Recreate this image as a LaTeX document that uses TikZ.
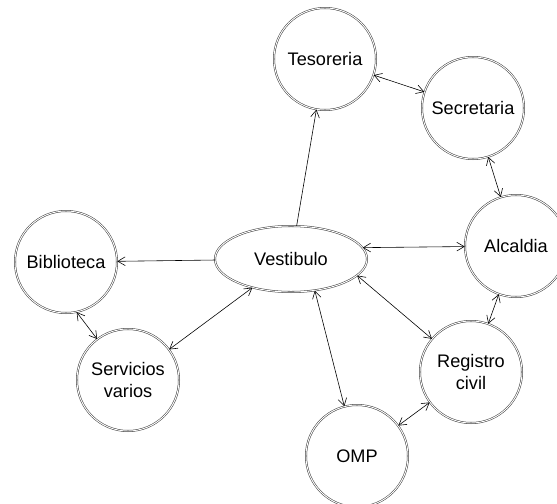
\documentclass[tikz,border=0pt]{standalone}
\usepackage{fontspec}
\setmainfont{Liberation Sans}
\usetikzlibrary{shapes.geometric, arrows.meta}

\begin{document}
\begin{tikzpicture}[
		x=0.03cm, y=-0.03cm,
		font=\fontsize{15.5}{19.5}\selectfont,
		% Style for the offices
		office/.style={circle, draw=black!75, double, double distance=0.8pt, line width=0.45pt,
			minimum size=3.06cm, inner sep=0pt, align=center},
		% Style for the hall
		hall/.style={ellipse, draw=black!75, double, double distance=0.8pt, line width=0.45pt,
			minimum width=4.56cm, minimum height=1.98cm, inner sep=0pt},
		% Style for the connectors
		link/.style={line width=0.5pt, >={Straight Barb[length=2.2mm, width=2.6mm]}}
		]
		
		% ==============================================================================
		% Frame
		% ==============================================================================
		\fill[white] (0,0) rectangle (557,504);
		\clip (0,0) rectangle (557,504);
		
		% ==============================================================================
		% Rooms
		% ==============================================================================
		\node[hall] (vest) at (291,259) {Vestibulo};
		\node[office] (teso) at (325,59) {Tesoreria};
		\node[office] (secr) at (473,108) {Secretaria};
		\node[office] (alca) at (516,246) {Alcaldia};
		\node[office] (bibl) at (66,262) {Biblioteca};
		\node[office] (serv) at (128,380) {Servicios\\varios};
		\node[office] (regi) at (471,372) {Registro\\civil};
		\node[office] (omp) at (357,456) {OMP};
		
		% ==============================================================================
		% Connections
		% ==============================================================================
		\draw[link, ->] (vest) -- (teso);
		\draw[link, ->] (vest) -- (bibl);
		\draw[link, <->] (vest) -- (serv);
		\draw[link, <->] (vest.9) -- (alca);
		\draw[link, <->] (vest.-14) -- (regi);
		\draw[link, <->] (vest.-53) -- (omp);
		
		\draw[link, <->] (teso) -- (secr);
		\draw[link, <->] (secr) -- (alca);
		\draw[link, <->] (alca) -- (regi);
		\draw[link, <->] (regi) -- (omp);
		\draw[link, <->] (bibl.-78) -- (serv.127); % short one on the left
	\end{tikzpicture}
\end{document}
